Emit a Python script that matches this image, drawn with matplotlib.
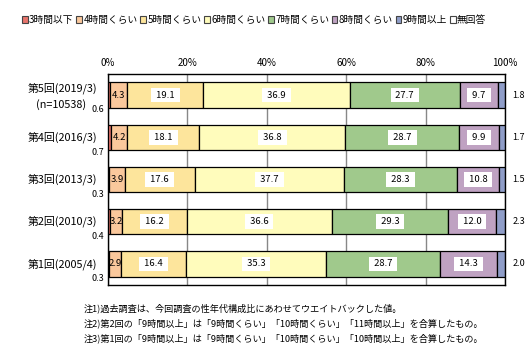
import matplotlib.pyplot as plt
from matplotlib.patches import Patch
import numpy as np

plt.rcParams['font.family'] = ['Noto Sans CJK JP', 'DejaVu Sans']

# rows from top to bottom
rows = ["第5回(2019/3)", "第4回(2016/3)", "第3回(2013/3)",
        "第2回(2010/3)", "第1回(2005/4)"]
n_label = "(n=10538)"
categories = ["3時間以下", "4時間くらい", "5時間くらい", "6時間くらい",
              "7時間くらい", "8時間くらい", "9時間以上", "無回答"]
h3 = [0.6, 0.7, 0.3, 0.4, 0.3]
h4 = [4.3, 4.2, 3.9, 3.2, 2.9]
h5 = [19.1, 18.1, 17.6, 16.2, 16.4]
h6 = [36.9, 36.8, 37.7, 36.6, 35.3]
h7 = [27.7, 28.7, 28.3, 29.3, 28.7]
h8 = [9.7, 9.9, 10.8, 12.0, 14.3]
h9 = [1.8, 1.7, 1.5, 2.3, 2.0]
no_ans = [0.0, 0.0, 0.0, 0.0, 0.0]
notes = [
    "注1)過去調査は、今回調査の性年代構成比にあわせてウエイトバックした値。",
    "注2)第2回の「9時間以上」は「9時間くらい」「10時間くらい」「11時間以上」を合算したもの。",
    "注3)第1回の「9時間以上」は「9時間くらい」「10時間くらい」「10時間以上」を合算したもの。",
]

colors = ["#E8746C", "#FAC89C", "#FDE59C", "#FFFCBC", "#A0C98C", "#BFA2C2",
          "#8F9DC8", "#FFFFFF"]
series = [h3, h4, h5, h6, h7, h8, h9, no_ans]

fig = plt.figure(figsize=(5.27, 3.5), dpi=100)
ax = fig.add_axes([108 / 527, 1 - 285 / 350, 397 / 527, 211 / 350])

y = np.arange(len(rows))
left = np.zeros(len(rows))
bh = 0.6
for vals, c in zip(series, colors):
    ax.barh(y, vals, left=left, height=bh, color=c, edgecolor="black",
            linewidth=0.9, zorder=3)
    left += np.array(vals)

ax.set_xlim(0, 100)
ax.set_ylim(len(rows) - 0.5, -0.5)
ax.set_xticks([0, 20, 40, 60, 80, 100])
ax.set_xticklabels([f"{t}%" for t in [0, 20, 40, 60, 80, 100]], fontsize=7)
ax.xaxis.tick_top()
ax.tick_params(axis="x", length=0, pad=4)
ax.set_yticks([])
ax.grid(axis="x", color="#888888", linewidth=1, zorder=0)
for s in ax.spines.values():
    s.set_linewidth(1)

box = dict(boxstyle="square,pad=0.3", facecolor="white", edgecolor="none")
for i in range(len(rows)):
    cum = [0]
    for vals in series:
        cum.append(cum[-1] + vals[i])
    # first segment value under the bar, left of the axis
    ax.text(-1.0, i + bh / 2 + 0.05, f"{h3[i]:.1f}", ha="right", va="center",
            fontsize=6.5, clip_on=False)
    # 4h label sits on the bar without box
    ax.text((cum[1] + cum[2]) / 2, i, f"{h4[i]:.1f}", ha="center", va="center",
            fontsize=6.8, zorder=5)
    for k in (2, 3, 4, 5):
        ax.text((cum[k] + cum[k + 1]) / 2, i, f" {series[k][i]:.1f} ",
                ha="center", va="center", fontsize=6.8, bbox=box, zorder=5)
    ax.text(101.8, i, f"{h9[i]:.1f}", ha="left", va="center", fontsize=6.5,
            clip_on=False)
    if i == 0:
        ax.text(-2.7, i - 0.17, rows[i], ha="right", va="center", fontsize=7.8,
                clip_on=False)
        ax.text(-5.5, i + 0.22, n_label, ha="right", va="center", fontsize=7.8,
                clip_on=False)
    else:
        ax.text(-2.7, i, rows[i], ha="right", va="center", fontsize=7.8,
                clip_on=False)

handles = [Patch(facecolor=c, edgecolor="#444444", linewidth=0.8) for c in colors]
fig.legend(handles, categories, loc="center", bbox_to_anchor=(0.482, 1 - 20 / 350),
           ncol=8, frameon=False, fontsize=7, handlelength=0.6, handleheight=0.6,
           handletextpad=0.15, columnspacing=0.25, borderpad=0)

for j, t in enumerate(notes):
    fig.text(84 / 527, 1 - (308 + 15 * j) / 350, t, ha="left", va="center",
             fontsize=6.6)

fig.savefig("out.png", dpi=100)
